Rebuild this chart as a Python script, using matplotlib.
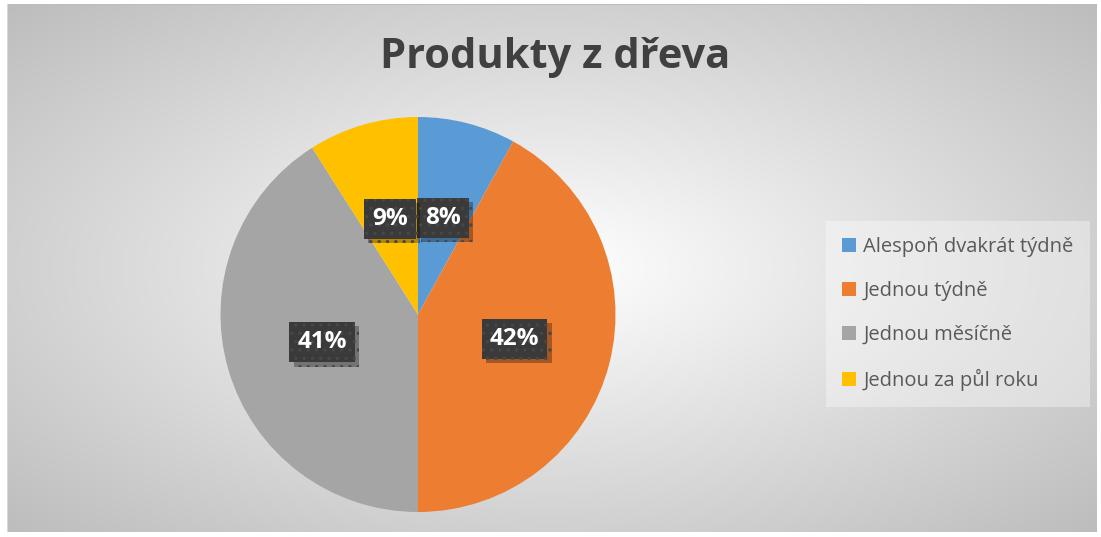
import matplotlib.pyplot as plt
import matplotlib.patheffects as pe
import numpy as np

categories = ["Alespoň dvakrát týdně", "Jednou týdně", "Jednou měsíčně", "Jednou za půl roku"]
values = [8, 42, 41, 9]
colors = ["#5B9BD5", "#ED7D31", "#A5A5A5", "#FFC000"]
title = "Produkty z dřeva"

plt.rcParams['font.family'] = ['Open Sans', 'DejaVu Sans']
plt.rcParams['hatch.linewidth'] = 1.2

W, H = 1101, 537
fig = plt.figure(figsize=(W / 100, H / 100), dpi=100)
fig.patch.set_facecolor("white")

# radial gradient background of the chart area
x0, x1, y0, y1 = 7, 1097, 4, 532
bg = fig.add_axes([x0 / W, 1 - y1 / H, (x1 - x0) / W, (y1 - y0) / H])
bg.set_axis_off()
gx = np.linspace(-1, 1, 600)
gy = np.linspace(-1, 1, 300)
XX, YY = np.meshgrid(gx, gy)
d = np.sqrt(XX ** 2 + YY ** 2) / np.sqrt(2)
g = 1.0 - 0.26 * d
bg.imshow(np.dstack([g, g, g]), aspect='auto', extent=[0, 1, 0, 1], interpolation='bilinear')
bg.set_xlim(0, 1)
bg.set_ylim(0, 1)
bg.plot([0, 1], [1, 1], color="#bdbdbd", lw=1.5)
bg.plot([0, 0], [0, 1], color="#d8d8d8", lw=1.5)

# pie
cx, cy, r = 418, 314.5, 197.5
ax = fig.add_axes([(cx - r) / W, (H - cy - r) / H, 2 * r / W, 2 * r / H])
ax.patch.set_alpha(0)
wedges, texts, autotexts = ax.pie(
    values, colors=colors, startangle=90, counterclock=False,
    autopct='%1.0f%%', pctdistance=0.505,
    wedgeprops=dict(linewidth=0),
    textprops=dict(color="white", fontsize=17.5, fontweight="bold"))
ax.set_xlim(-1, 1)
ax.set_ylim(-1, 1)
ax.set_aspect('equal')

for t in autotexts:
    t.set_bbox(dict(boxstyle="square,pad=0.33", fc="#3a3a3a", ec="#474747",
                    lw=0, hatch=".."))
    t.get_bbox_patch().set_path_effects(
        [pe.SimplePatchShadow(offset=(3, -3), shadow_rgbFace="black", alpha=0.3), pe.Normal()])

fig.text(555 / W, 1 - 57 / H, title, ha="center", va="center",
         fontsize=30, fontweight="bold", color="#404040")

leg = fig.legend(wedges, categories, loc="center left",
                 bbox_to_anchor=(826 / W, 1 - 314 / H),
                 frameon=True, fontsize=14.5, labelcolor="#595959",
                 handlelength=0.7, handleheight=0.7, handletextpad=0.35,
                 labelspacing=1.2, borderpad=0.8, borderaxespad=0, fancybox=False)
leg.get_frame().set_facecolor("white")
leg.get_frame().set_alpha(0.35)
leg.get_frame().set_linewidth(0)

fig.savefig("out.png", dpi=100)
